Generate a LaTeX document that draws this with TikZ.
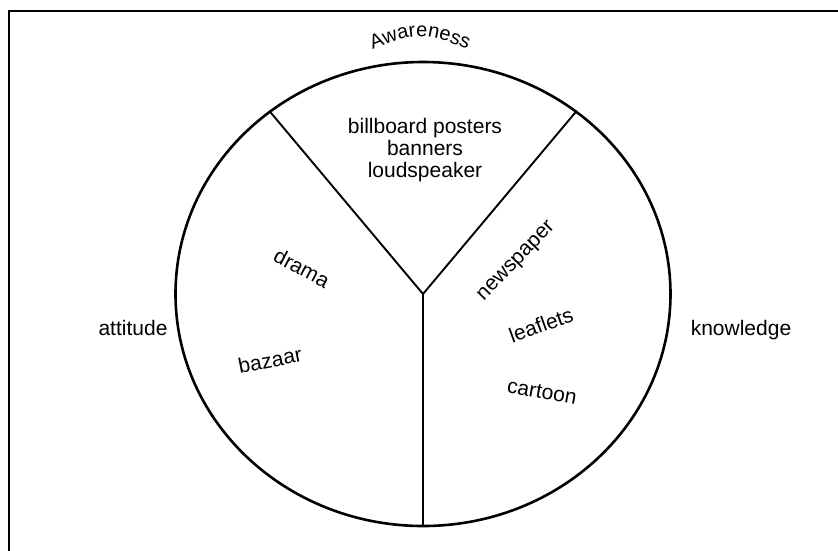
\documentclass[tikz,border=0pt]{standalone}
\usepackage{fontspec}
\setmainfont{Liberation Sans}
\usetikzlibrary{shapes.geometric,decorations.text}
\tikzset{
  txt/.style={font=\fontsize{21}{22}\selectfont, inner sep=0pt},
  spoke/.style={line width=1.9pt}
}

\begin{document}
\begin{tikzpicture}[x=1pt,y=-1pt]
    \useasboundingbox (0,0) rectangle (838,550);
    % Frame (only top and left edges fall inside the page)
    \draw[line width=1.6pt] (9,600) |- (900,11);
    % Wheel
    \node[draw, ellipse, line width=2.6pt, inner sep=0pt,
      minimum width=495pt, minimum height=464pt] (wheel) at (423,294) {};
    \draw[spoke] (wheel.center) -- (wheel.130);
    \draw[spoke] (wheel.center) -- (wheel.50);
    \draw[spoke] (wheel.center) -- (wheel.south);
    % Awareness, set along the rim
    \path[decorate, decoration={text along path, text align=center,
      text={|\fontsize{20}{22}\selectfont|Awareness}}]
      (356,56) .. controls (420,30) .. (484,56);
    % Media in each sector
    \node[txt, align=center] (billboard) at (425,150)
      {billboard posters\\banners\\loudspeaker};
    \node[txt, rotate=-28] (drama) at (302,268) {drama};
    \node[txt, rotate=11] (bazaar) at (270,360) {bazaar};
    \node[txt, rotate=46] (newspaper) at (517,262) {newspaper};
    \node[txt, rotate=20] (leaflets) at (541,325) {leaflets};
    \node[txt, rotate=-10] (cartoon) at (542,392) {cartoon};
    % Outer labels
    \node[txt] (attitude) at (133,328) {attitude};
    \node[txt] (knowledge) at (741,330) {knowledge};
\end{tikzpicture}
\end{document}
